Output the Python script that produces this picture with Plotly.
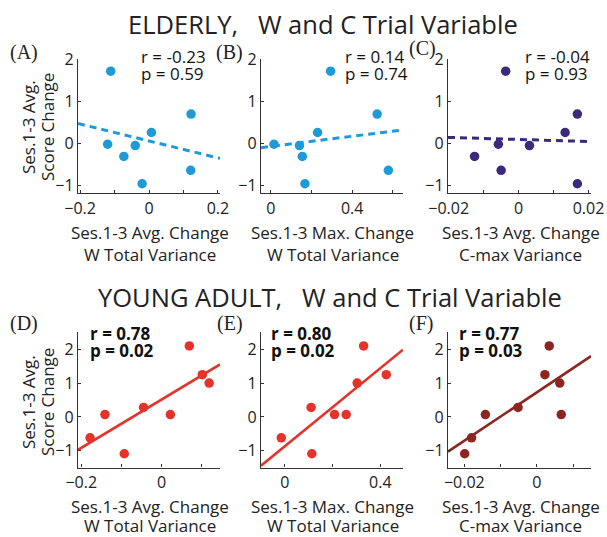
import numpy as np
import plotly.graph_objects as go

# ---------------- data ----------------
elderly_score = [1.71, 0.69, 0.25, -0.03, -0.06, -0.32, -0.65, -0.97]
elderly_w_avg = [-0.111, 0.122, 0.007, -0.120, -0.040, -0.073, 0.121, -0.020]
elderly_w_max = [0.294, 0.523, 0.230, 0.016, 0.141, 0.155, 0.578, 0.168]
elderly_c_avg = [-0.0037, 0.0168, 0.0133, -0.0058, 0.0031, -0.0126, -0.0050, 0.0168]

young_score = [2.10, 1.25, 1.00, 0.28, 0.07, 0.07, -0.62, -1.09]
young_w_avg = [0.0687, 0.101, 0.118, -0.045, -0.141, 0.0216, -0.178, -0.093]
young_w_max = [0.330, 0.425, 0.303, 0.110, 0.208, 0.257, -0.015, 0.113]
young_c_avg = [0.0034, 0.0022, 0.0063, -0.0052, 0.0067, -0.0142, -0.0180, -0.0199]

panel_letters = ["(A)", "(B)", "(C)", "(D)", "(E)", "(F)"]
r_labels = ["r = -0.23", "r = 0.14", "r = -0.04", "r = 0.78", "r = 0.80", "r = 0.77"]
p_labels = ["p = 0.59", "p = 0.74", "p = 0.93", "p = 0.02", "p = 0.02", "p = 0.03"]
titles = ["ELDERLY,   W and C Trial Variable", "YOUNG ADULT,   W and C Trial Variable"]
xtitles = [["Ses.1-3 Avg. Change", "W Total Variance"],
           ["Ses.1-3 Max. Change", "W Total Variance"],
           ["Ses.1-3 Avg. Change", "C-max Variance"]]
ytitle = ["Ses.1-3 Avg.", "Score Change"]

# ---------------- layout params ----------------
W, H = 607, 537
FONT = "Open Sans"
colors = ["#1e9bd7", "#1e9bd7", "#3b2a7c", "#e5332a", "#e5332a", "#8c2620"]
xs = [elderly_w_avg, elderly_w_max, elderly_c_avg, young_w_avg, young_w_max, young_c_avg]
ys = [elderly_score] * 3 + [young_score] * 3
xranges = [[-0.206, 0.206], [-0.048, 0.65], [-0.0202, 0.0207],
           [-0.208, 0.145], [-0.1, 0.495], [-0.0245, 0.0149]]
xtick = [
    ([-0.2, -0.1, 0, 0.1, 0.2], ["\u22120.2", "", "0", "", "0.2"]),
    ([0, 0.2, 0.4, 0.6], ["0", "", "0.4", ""]),
    ([-0.02, -0.01, 0, 0.01, 0.02], ["\u22120.02", "", "0", "", "0.02"]),
    ([-0.2, -0.1, 0, 0.1], ["\u22120.2", "", "0", ""]),
    ([0, 0.2, 0.4], ["0", "", "0.4"]),
    ([-0.02, -0.01, 0, 0.01], ["\u22120.02", "", "0", ""]),
]
xpix = [(78, 220), (261, 403), (448, 591)] * 2
ypix = [(59, 193.4)] * 3 + [(332.4, 467.6)] * 3
yranges = [[-1.2, 2.0]] * 3 + [[-1.5, 2.5]] * 3
dashed = [True, True, True, False, False, False]

fig = go.Figure()
layout = dict(
    width=W, height=H, margin=dict(l=0, r=0, t=0, b=0, pad=0), autosize=False,
    paper_bgcolor="white", plot_bgcolor="white", showlegend=False,
    font=dict(family=FONT, size=16, color="#222"),
)
annotations = []

for i in range(6):
    k = "" if i == 0 else str(i + 1)
    xa, ya = "x" + k, "y" + k
    x = np.array(xs[i]); y = np.array(ys[i])
    slope, icpt = np.polyfit(x, y, 1)
    lx = np.array(xranges[i])
    ly = slope * lx + icpt
    fig.add_trace(go.Scatter(
        x=lx, y=ly, mode="lines", xaxis=xa, yaxis=ya,
        line=dict(color=colors[i], width=3 if dashed[i] else 2.6,
                  dash="7px,5px" if dashed[i] else "solid"),
        cliponaxis=True, hoverinfo="skip"))
    fig.add_trace(go.Scatter(
        x=x, y=y, mode="markers", xaxis=xa, yaxis=ya,
        marker=dict(color=colors[i], size=9.5, line=dict(width=0))))

    x0, x1 = xpix[i]
    y0, y1 = ypix[i]
    tv, tt = xtick[i]
    layout["xaxis" + k] = dict(
        domain=[x0 / W, x1 / W], range=xranges[i], anchor=ya, automargin=False,
        showgrid=False, zeroline=False, showline=True, linecolor="#333", linewidth=1.3,
        ticks="inside", ticklen=3, tickcolor="#333", tickvals=tv, ticktext=tt,
        tickfont=dict(size=16, family=FONT, color="#222"), fixedrange=True)
    layout["yaxis" + k] = dict(
        domain=[1 - y1 / H, 1 - y0 / H], range=yranges[i], anchor=xa, automargin=False,
        showgrid=False, zeroline=False, showline=True, linecolor="#333", linewidth=1.3,
        ticks="inside", ticklen=3, tickcolor="#333", tickvals=[-1, 0, 1, 2],
        ticktext=["\u22121", "0", "1", "2"],
        tickfont=dict(size=16, family=FONT, color="#222"), fixedrange=True)

# panel letters
letter_pos = [(8, 52), (214, 52), (407, 48), (8, 323), (215, 323), (407, 323)]
for i, (px, py) in enumerate(letter_pos):
    annotations.append(dict(
        text=panel_letters[i], x=px / W, y=1 - py / H, xref="paper", yref="paper",
        xanchor="left", yanchor="middle", showarrow=False,
        font=dict(family="Liberation Serif", size=20, color="#222")))

# r / p labels
rp_pos = [(139, 56), (343, 56), (523, 56), (88, 333), (269, 333), (457, 333)]
for i, (px, py) in enumerate(rp_pos):
    bold = i >= 3
    for j, (lab, dy) in enumerate([(r_labels[i], 0), (p_labels[i], 17)]):
        annotations.append(dict(
            text="<b>" + lab + "</b>" if bold else lab,
            x=px / W, y=1 - (py + dy) / H, xref="paper", yref="paper",
            xanchor="left", yanchor="middle", showarrow=False,
            font=dict(family=FONT, size=17, color="#111")))

# titles
for t, cx, py in zip(titles, [323, 330], [24, 297]):
    annotations.append(dict(
        text=t, x=cx / W, y=1 - py / H, xref="paper", yref="paper",
        xanchor="center", yanchor="middle", showarrow=False,
        font=dict(family=FONT, size=25.5, color="#222")))

# x titles
for i in range(6):
    cx = (xpix[i][0] + xpix[i][1]) / 2 + 1
    lines_y = [232, 254] if i < 3 else [506, 525]
    for j, line in enumerate(xtitles[i % 3]):
        annotations.append(dict(
            text=line, x=cx / W, y=1 - lines_y[j] / H, xref="paper", yref="paper",
            xanchor="center", yanchor="middle", showarrow=False,
            font=dict(family=FONT, size=17, color="#222")))

# y titles
for cy in [127, 402]:
    for j, line in enumerate(ytitle):
        annotations.append(dict(
            text=line, x=(28 + 19 * j) / W, y=1 - cy / H, xref="paper", yref="paper",
            xanchor="center", yanchor="middle", textangle=-90, showarrow=False,
            font=dict(family=FONT, size=17, color="#222")))

layout["annotations"] = annotations
fig.update_layout(**layout)
fig.write_html("out.html")
